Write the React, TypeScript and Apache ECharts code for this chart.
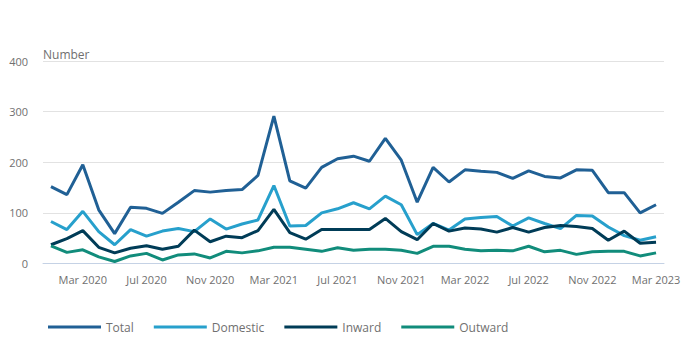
import React, { useEffect, useRef } from "react";
import * as echarts from "echarts";

const months = [
  "Jan 2020", "Feb 2020", "Mar 2020", "Apr 2020", "May 2020", "Jun 2020", "Jul 2020", "Aug 2020", "Sep 2020", "Oct 2020", "Nov 2020", "Dec 2020",
  "Jan 2021", "Feb 2021", "Mar 2021", "Apr 2021", "May 2021", "Jun 2021", "Jul 2021", "Aug 2021", "Sep 2021", "Oct 2021", "Nov 2021", "Dec 2021",
  "Jan 2022", "Feb 2022", "Mar 2022", "Apr 2022", "May 2022", "Jun 2022", "Jul 2022", "Aug 2022", "Sep 2022", "Oct 2022", "Nov 2022", "Dec 2022",
  "Jan 2023", "Feb 2023", "Mar 2023",
];

const total = [152, 136, 195, 106, 59, 111, 109, 99, 121, 144, 141, 144, 146, 174, 291, 163, 149, 190, 207, 212, 202, 247, 204, 121, 190, 161, 185, 182, 180, 168, 183, 172, 169, 185, 184, 140, 140, 100, 116];
const domestic = [83, 67, 103, 63, 37, 67, 54, 64, 69, 63, 88, 68, 78, 86, 154, 74, 75, 100, 108, 120, 108, 133, 116, 57, 79, 66, 88, 91, 93, 74, 90, 79, 69, 95, 94, 72, 55, 46, 53];
const inward = [37, 49, 65, 32, 21, 30, 35, 28, 34, 66, 43, 54, 51, 65, 107, 61, 48, 67, 67, 67, 67, 89, 63, 47, 79, 64, 70, 68, 62, 71, 62, 71, 75, 73, 69, 46, 64, 40, 42];
const outward = [35, 22, 27, 13, 4, 15, 20, 7, 17, 19, 11, 24, 21, 25, 32, 32, 28, 24, 31, 26, 28, 28, 26, 20, 34, 34, 28, 25, 26, 25, 34, 23, 26, 18, 23, 24, 24, 15, 21];

const seriesNames = ["Total", "Domestic", "Inward", "Outward"];
const seriesColors = ["#206095", "#27a0cc", "#003c57", "#118c7b"];
const seriesData = [total, domestic, inward, outward];

const FONT = "'Open Sans', sans-serif";
const GREY = "#707070";

export default function App() {
  const ref = useRef<HTMLDivElement>(null);
  useEffect(() => {
    if (!ref.current) return;
    const chart = echarts.init(ref.current, undefined, { renderer: "svg" });
    const showTick = (i: number) => (i - 2) % 4 === 0;
    chart.setOption({
      animation: false,
      textStyle: { fontFamily: FONT },
      grid: { left: 43, right: 32, top: 61, bottom: 89.5, containLabel: false },
      legend: {
        left: 43,
        top: 316,
        icon: "rect",
        itemWidth: 53,
        itemHeight: 3,
        itemGap: 20,
        textStyle: { color: GREY, fontSize: 12, fontFamily: FONT },
        data: seriesNames,
      },
      xAxis: {
        type: "category",
        data: months,
        boundaryGap: true,
        axisLine: { lineStyle: { color: "#c5d2e5", width: 1 } },
        axisTick: { alignWithLabel: true, interval: (i: number) => showTick(i), length: 7, lineStyle: { color: "#c5d2e5" } },
        axisLabel: { interval: (i: number) => showTick(i), color: GREY, fontSize: 11, fontFamily: FONT, margin: 10 },
      },
      yAxis: {
        type: "value",
        min: 0,
        max: 400,
        interval: 100,
        name: "Number",
        nameLocation: "end",
        nameGap: 7,
        nameTextStyle: { align: "left", verticalAlign: "middle", color: GREY, fontSize: 12, fontFamily: FONT },
        axisLine: { show: false },
        axisTick: { show: false },
        axisLabel: { color: GREY, fontSize: 11, fontFamily: FONT, margin: 15 },
        splitLine: { lineStyle: { color: "#e2e2e2", width: 1 } },
      },
      series: seriesNames.map((name, k) => ({
        name,
        type: "line",
        data: seriesData[k],
        symbol: "none",
        color: seriesColors[k],
        lineStyle: { width: 3, color: seriesColors[k] },
      })),
    });
    return () => chart.dispose();
  }, []);
  return <div ref={ref} style={{ width: 696, height: 353, position: "absolute", left: 0, top: 0 }} />;
}
